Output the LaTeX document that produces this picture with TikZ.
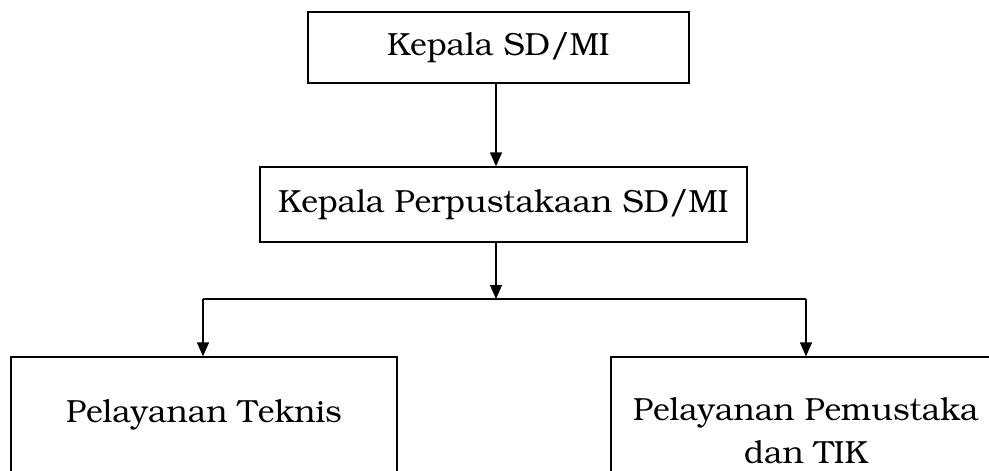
\documentclass[tikz,border=0pt]{standalone}
\usepackage[T1]{fontenc}
\usepackage{bookman}
\usetikzlibrary{arrows.meta}
\tikzset{
  box/.style={draw, line width=1.3pt, rectangle, inner sep=0pt, align=center,
    font=\fontsize{32}{43}\selectfont},
  conn/.style={line width=1.3pt, -{Triangle[length=14pt,width=12pt]}},
  link/.style={line width=1.3pt}
}
\begin{document}
\begin{tikzpicture}[x=1pt,y=-1pt]
\useasboundingbox (0,0) rectangle (989,471);
\clip (0,0) rectangle (989,471);
\node[box, minimum width=381pt, minimum height=71pt] (kepala) at (498.5,47.5) {Kepala SD/MI};
\node[box, minimum width=487pt, minimum height=75pt] (perpus) at (503.5,204.5) {Kepala Perpustakaan SD/MI};
\node[box, minimum width=386pt, minimum height=116pt] (teknis) at (204,415) {Pelayanan Teknis};
\node[box, minimum width=390pt, minimum height=148pt] (pemustaka) at (806,431) {Pelayanan Pemustaka\\dan TIK};
\coordinate (mid) at (496,299);
\coordinate (lb) at (203,299);
\coordinate (rb) at (806,299);
\draw[conn] (kepala.south -| mid) -- (perpus.north -| mid);
\draw[conn] (perpus.south -| mid) -- (mid);
\draw[link] (lb) -- (rb);
\draw[conn] (lb) -- (teknis.north -| lb);
\draw[conn] (rb) -- (pemustaka.north -| rb);
\end{tikzpicture}
\end{document}
